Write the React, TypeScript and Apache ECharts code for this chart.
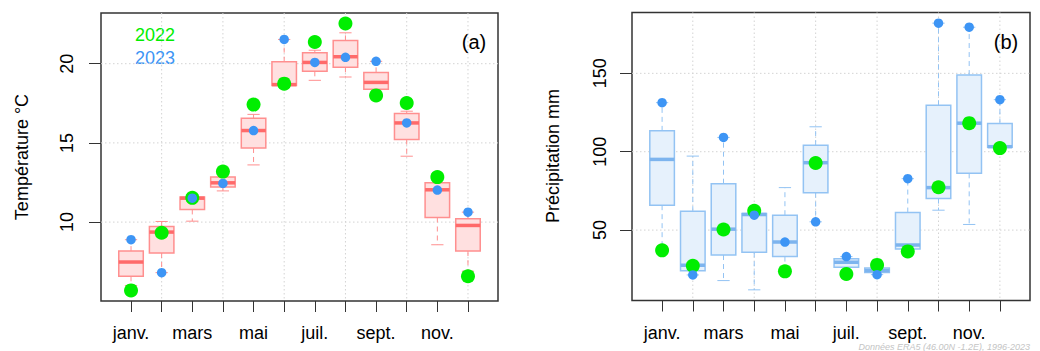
import React, { useEffect, useRef } from "react";
import * as echarts from "echarts";

// ---------- data ----------
const months = ["janv.", "févr.", "mars", "avr.", "mai", "juin", "juil.", "août", "sept.", "oct.", "nov.", "déc."];
const monthTicks = [1, 2, 3, 4, 5, 6, 7, 8, 9, 10, 11, 12];
const labeledMonths = [1, 3, 5, 7, 9, 11];
const gridMonths = [2, 4, 6, 8, 10, 12];

const tempTicks = [10, 15, 20];
const precTicks = [50, 100, 150];

// Temperature (°C) box statistics 1996-2023
const tempLow = [6.0, 6.81, 10.06, 11.97, 13.61, 18.6, 18.95, 19.16, 18.2, 14.16, 8.57, 6.9];
const tempQ1 = [6.58, 8.05, 10.8, 12.21, 14.68, 18.63, 19.52, 19.77, 18.38, 15.21, 10.29, 8.17];
const tempMed = [7.48, 9.37, 11.51, 12.48, 15.78, 18.68, 20.08, 20.44, 18.82, 16.26, 12.04, 9.79];
const tempQ3 = [8.17, 9.73, 11.58, 12.84, 16.55, 20.13, 20.69, 21.47, 19.45, 16.85, 12.48, 10.21];
const tempHigh = [8.89, 10.04, 11.7, 13.0, 16.8, 21.53, 20.85, 21.95, 20.15, 17.0, 12.75, 10.63];
const temp2022 = [5.69, 9.33, 11.53, 13.19, 17.42, 18.74, 21.37, 22.54, 18.0, 17.52, 12.84, 6.58];
const temp2023 = [8.89, 6.81, 11.51, 12.44, 15.78, 21.53, 20.08, 20.4, 20.15, 16.26, 12.02, 10.63];

// Precipitation (mm) box statistics 1996-2023
const precLow = [38, 21.4, 17.8, 11.9, 25, 55.3, 22.5, 21.6, 36.5, 62.7, 53.6, 102.5];
const precQ1 = [65.9, 24.0, 34.1, 35.8, 33.1, 73.9, 26.3, 22.9, 37.9, 70.1, 86.2, 102.8];
const precMed = [95.1, 27.6, 50.6, 59.95, 42.4, 93.0, 29.5, 24.2, 40.5, 77.1, 118.2, 103.2];
const precQ3 = [113.3, 62.1, 79.6, 60.6, 59.5, 104.2, 31.8, 25.9, 61.2, 129.6, 148.9, 118.0];
const precHigh = [131.3, 97.2, 109.1, 62.3, 77.1, 115.9, 33.1, 26.5, 82.8, 182.0, 179.4, 133.2];
const prec2022 = [37.1, 27.3, 50.4, 62.3, 23.7, 92.8, 22.0, 27.8, 36.4, 77.3, 118.2, 102.3];
const prec2023 = [131.3, 21.4, 109.1, 59.5, 42.4, 55.3, 33.1, 21.6, 82.8, 182.0, 179.4, 133.2];

// ---------- styles ----------
const FONT = "'Liberation Sans', Arial, Helvetica, sans-serif";
const GREEN = "#00EE00";
const BLUE = "#3D95F5";

const boxRows = (lo: number[], q1: number[], md: number[], q3: number[], hi: number[]) =>
  monthTicks.map((m, i) => [m, lo[i], q1[i], md[i], q3[i], hi[i]]);
const pts = (v: number[]) => monthTicks.map((m, i) => [m, v[i]]);

function boxRenderer(fill: string, stroke: string, med: string, whisk: string) {
  return (params: any, api: any) => {
    const x = api.value(0);
    const [cx, yLow] = api.coord([x, api.value(1)]);
    const yQ1 = api.coord([x, api.value(2)])[1];
    const yMed = api.coord([x, api.value(3)])[1];
    const yQ3 = api.coord([x, api.value(4)])[1];
    const yHigh = api.coord([x, api.value(5)])[1];
    const w = api.size([0.8, 0])[0];
    const cap = w / 2;
    return {
      type: "group",
      children: [
        { type: "line", shape: { x1: cx, y1: yQ3, x2: cx, y2: yHigh }, style: { stroke: whisk, lineWidth: 1, lineDash: [5, 4] } },
        { type: "line", shape: { x1: cx, y1: yQ1, x2: cx, y2: yLow }, style: { stroke: whisk, lineWidth: 1, lineDash: [5, 4] } },
        { type: "line", shape: { x1: cx - cap / 2, y1: yHigh, x2: cx + cap / 2, y2: yHigh }, style: { stroke: whisk, lineWidth: 1 } },
        { type: "line", shape: { x1: cx - cap / 2, y1: yLow, x2: cx + cap / 2, y2: yLow }, style: { stroke: whisk, lineWidth: 1 } },
        { type: "rect", shape: { x: cx - w / 2, y: yQ3, width: w, height: yQ1 - yQ3 }, style: { fill, stroke, lineWidth: 1.5 } },
        { type: "line", shape: { x1: cx - w / 2, y1: yMed, x2: cx + w / 2, y2: yMed }, style: { stroke: med, lineWidth: 3.5 } },
      ],
    };
  };
}

const gridStyle = { stroke: "#D3D3D3", lineWidth: 1, lineDash: [1.5, 2.5] };
const vGrid = (params: any, api: any) => {
  const cs = params.coordSys;
  const p = api.coord([api.value(0), api.value(1)]);
  return { type: "line", shape: { x1: p[0], y1: cs.y, x2: p[0], y2: cs.y + cs.height }, style: gridStyle };
};
const hGrid = (params: any, api: any) => {
  const cs = params.coordSys;
  const p = api.coord([api.value(0), api.value(1)]);
  return { type: "line", shape: { x1: cs.x, y1: p[1], x2: cs.x + cs.width, y2: p[1] }, style: gridStyle };
};

const X_MIN = 0.02;
const X_MAX = 12.98;
const T_MIN = 5.02;
const T_MAX = 23.2;
const P_MIN = 5.1;
const P_MAX = 188.8;

function xAxis(gridIndex: number) {
  return {
    type: "value",
    gridIndex,
    min: X_MIN,
    max: X_MAX,
    axisLine: { show: false, onZero: false },
    axisTick: { show: true, customValues: monthTicks, length: 11, lineStyle: { color: "#333", width: 1 } },
    axisLabel: {
      show: true,
      customValues: labeledMonths,
      formatter: (v: number) => months[Math.round(v) - 1],
      fontSize: 18,
      lineHeight: 18,
      color: "#000",
      margin: 23,
      fontFamily: FONT,
    },
    splitLine: { show: false },
  };
}

function yAxis(gridIndex: number, min: number, max: number, ticks: number[], margin: number) {
  return {
    type: "value",
    gridIndex,
    min,
    max,
    axisLine: { show: false, onZero: false },
    axisTick: { show: true, customValues: ticks, length: 12, lineStyle: { color: "#333", width: 1 } },
    axisLabel: { show: true, customValues: ticks, rotate: 90, fontSize: 18, color: "#000", margin, fontFamily: FONT },
    splitLine: { show: false },
  };
}

const option: any = {
  animation: false,
  textStyle: { fontFamily: FONT },
  grid: [
    { left: 101, top: 13, width: 397, height: 288, show: true, borderColor: "#333", borderWidth: 1.5, backgroundColor: "transparent", outerBoundsMode: "none" },
    { left: 632, top: 12.5, width: 398, height: 288, show: true, borderColor: "#333", borderWidth: 1.5, backgroundColor: "transparent", outerBoundsMode: "none" },
  ],
  xAxis: [xAxis(0), xAxis(1)],
  yAxis: [yAxis(0, T_MIN, T_MAX, tempTicks, 25), yAxis(1, P_MIN, P_MAX, precTicks, 23)],
  series: [
    // grid lines
    { type: "custom", xAxisIndex: 0, yAxisIndex: 0, z: 1, silent: true, renderItem: vGrid, encode: { x: 0, y: 1 }, data: gridMonths.map((m) => [m, T_MIN]) },
    { type: "custom", xAxisIndex: 0, yAxisIndex: 0, z: 1, silent: true, renderItem: hGrid, encode: { x: 0, y: 1 }, data: tempTicks.map((t) => [X_MIN, t]) },
    { type: "custom", xAxisIndex: 1, yAxisIndex: 1, z: 1, silent: true, renderItem: vGrid, encode: { x: 0, y: 1 }, data: gridMonths.map((m) => [m, P_MIN]) },
    { type: "custom", xAxisIndex: 1, yAxisIndex: 1, z: 1, silent: true, renderItem: hGrid, encode: { x: 0, y: 1 }, data: precTicks.map((t) => [X_MIN, t]) },
    // boxes
    {
      type: "custom", xAxisIndex: 0, yAxisIndex: 0, z: 2, silent: true,
      renderItem: boxRenderer("#FFE0E0", "#FF8F8F", "#FF6A6A", "#FF8F8F"),
      encode: { x: 0, y: [1, 2, 3, 4, 5] },
      data: boxRows(tempLow, tempQ1, tempMed, tempQ3, tempHigh),
    },
    {
      type: "custom", xAxisIndex: 1, yAxisIndex: 1, z: 2, silent: true,
      renderItem: boxRenderer("#E6F1FC", "#93C3F3", "#7DB4EE", "#93C3F3"),
      encode: { x: 0, y: [1, 2, 3, 4, 5] },
      data: boxRows(precLow, precQ1, precMed, precQ3, precHigh),
    },
    // points
    { type: "scatter", name: "2022", xAxisIndex: 0, yAxisIndex: 0, z: 3, silent: true, symbol: "circle", symbolSize: 14, itemStyle: { color: GREEN, opacity: 1 }, data: pts(temp2022) },
    { type: "scatter", name: "2023", xAxisIndex: 0, yAxisIndex: 0, z: 4, silent: true, symbol: "circle", symbolSize: 9.5, itemStyle: { color: BLUE, opacity: 1 }, data: pts(temp2023) },
    { type: "scatter", name: "2022", xAxisIndex: 1, yAxisIndex: 1, z: 3, silent: true, symbol: "circle", symbolSize: 14, itemStyle: { color: GREEN, opacity: 1 }, data: pts(prec2022) },
    { type: "scatter", name: "2023", xAxisIndex: 1, yAxisIndex: 1, z: 4, silent: true, symbol: "circle", symbolSize: 9.5, itemStyle: { color: BLUE, opacity: 1 }, data: pts(prec2023) },
  ],
  graphic: [
    { type: "text", x: 22, y: 157, rotation: Math.PI / 2, style: { text: "Température °C", fontSize: 18, fontFamily: FONT, fill: "#000", textAlign: "center", textVerticalAlign: "middle" } },
    { type: "text", x: 553, y: 156, rotation: Math.PI / 2, style: { text: "Précipitation mm", fontSize: 18, fontFamily: FONT, fill: "#000", textAlign: "center", textVerticalAlign: "middle" } },
    { type: "text", x: 135, y: 35, style: { text: "2022", fontSize: 18, fontFamily: FONT, fill: GREEN, textAlign: "left", textVerticalAlign: "middle" } },
    { type: "text", x: 135, y: 58, style: { text: "2023", fontSize: 18, fontFamily: FONT, fill: BLUE, textAlign: "left", textVerticalAlign: "middle" } },
    { type: "text", x: 474, y: 42, style: { text: "(a)", fontSize: 20, fontFamily: FONT, fill: "#000", textAlign: "center", textVerticalAlign: "middle" } },
    { type: "text", x: 1006, y: 42, style: { text: "(b)", fontSize: 20, fontFamily: FONT, fill: "#000", textAlign: "center", textVerticalAlign: "middle" } },
    { type: "text", x: 1030, y: 351, style: { text: "Données ERA5 (46.00N -1.2E), 1996-2023", fontSize: 9, lineHeight: 9, fontStyle: "italic", fontFamily: FONT, fill: "#C4C4C4", textAlign: "right", textVerticalAlign: "bottom" } },
  ],
};

export default function App() {
  const ref = useRef<HTMLDivElement>(null);
  useEffect(() => {
    if (!ref.current) return;
    const chart = echarts.init(ref.current, null, { renderer: "svg" });
    chart.setOption(option);
    return () => chart.dispose();
  }, []);
  return (
    <div
      ref={ref}
      style={{ position: "absolute", left: 0, top: 0, width: 1040, height: 351, background: "#fff" }}
    />
  );
}
